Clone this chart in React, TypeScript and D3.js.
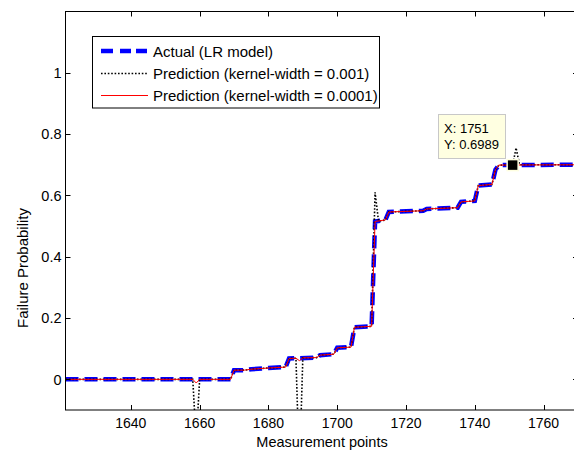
import React from "react";
import * as d3 from "d3";

// ---- data ----
const actualX = [1621, 1669, 1670, 1673, 1675, 1680, 1685, 1686, 1694, 1695, 1699, 1700, 1704, 1705, 1710, 1711, 1714, 1715, 1725, 1726, 1735, 1736, 1740, 1741, 1745, 1746, 1747, 1770];
const actualY = [0, 0, 0.03, 0.03, 0.033, 0.037, 0.04, 0.068, 0.071, 0.079, 0.082, 0.103, 0.105, 0.17, 0.173, 0.515, 0.52, 0.546, 0.55, 0.556, 0.56, 0.579, 0.582, 0.632, 0.636, 0.684, 0.699, 0.7];

// kernel-width = 0.001 deviations (black dotted)
const coarseSpikeX = [1658, 1659, 1660, 1688, 1689, 1690, 1711, 1712, 1751, 1752, 1753];
const coarseSpikeY = [0, -0.2, 0, 0.069, -0.3, 0.07, 0.61, 0.516, 0.699, 0.755, 0.7];

// kernel-width = 0.0001 deviations (red)
const fineSpikeX = [1658, 1659, 1660, 1688, 1689, 1690];
const fineSpikeY = [0, -0.012, 0, 0.069, 0.061, 0.07];

const xTicks = [1640, 1660, 1680, 1700, 1720, 1740, 1760];
const yTicks = [0, 0.2, 0.4, 0.6, 0.8, 1];
const yTickLabels = ["0", "0.2", "0.4", "0.6", "0.8", "1"];

const legendLabels = [
  "Actual (LR model)",
  "Prediction (kernel-width = 0.001)",
  "Prediction (kernel-width = 0.0001)",
];

const tipX = 1751;
const tipY = 0.6989;

type P = [number, number];
function merge(bx: number[], by: number[], sx: number[], sy: number[]): P[] {
  const m = new Map<number, number>();
  bx.forEach((x, i) => m.set(x, by[i]));
  sx.forEach((x, i) => m.set(x, sy[i]));
  return Array.from(m.entries()).sort((a, b) => a[0] - b[0]) as P[];
}

export default function App() {
  const W = 574, H = 451;
  const x0 = 65.5, x1 = 578, y0 = 11.5, y1 = 410;
  const x = d3.scaleLinear().domain([1621, 1770]).range([x0, x1]);
  const y = d3.scaleLinear().domain([-0.1, 1.2]).range([y1, y0]);
  const line = d3.line<P>().x(d => x(d[0])).y(d => y(d[1]));

  const actual: P[] = actualX.map((v, i) => [v, actualY[i]]);
  const coarse = merge(actualX, actualY, coarseSpikeX, coarseSpikeY);
  const fine = merge(actualX, actualY, fineSpikeX, fineSpikeY);

  const font = "'Liberation Sans', Arial, sans-serif";
  const fs = 14.5;
  const lfs = 15;
  const tl = 5;

  const lgX = 92.5, lgY = 36.5, lgW = 287, lgH = 71.5;
  const rows = [51, 73.5, 95.5];

  const px = x(tipX), py = y(tipY);

  return (
    <svg width={W} height={H} style={{ position: "absolute", left: 0, top: 0 }} fontFamily={font}>
      <rect x={0} y={0} width={W} height={H} fill="#fff" />
      <defs>
        <clipPath id="plot">
          <rect x={x0} y={y0} width={x1 - x0} height={y1 - y0} />
        </clipPath>
      </defs>
      <g clipPath="url(#plot)">
        <path d={line(actual) || ""} fill="none" stroke="#0000ff" strokeWidth={4.5} strokeDasharray="13 6" />
        <path d={line(coarse) || ""} fill="none" stroke="#000" strokeWidth={1.6} strokeDasharray="1.6 1.8" />
        <path d={line(fine) || ""} fill="none" stroke="#ff0000" strokeWidth={1} />
      </g>
      {/* frame */}
      <rect x={x0} y={y0} width={x1 - x0} height={y1 - y0} fill="none" stroke="#000" strokeWidth={1} />
      {/* ticks */}
      {xTicks.map(t => (
        <g key={"x" + t}>
          <line x1={Math.round(x(t)) + 0.5} x2={Math.round(x(t)) + 0.5} y1={y1} y2={y1 - tl} stroke="#000" />
          <line x1={Math.round(x(t)) + 0.5} x2={Math.round(x(t)) + 0.5} y1={y0} y2={y0 + tl} stroke="#000" />
          <text x={x(t)} y={428} fontSize={14} textAnchor="middle">{t}</text>
        </g>
      ))}
      {yTicks.map((t, i) => (
        <g key={"y" + t}>
          <line x1={x0} x2={x0 + tl} y1={Math.round(y(t)) + 0.5} y2={Math.round(y(t)) + 0.5} stroke="#000" />
          <line x1={x1 - tl} x2={x1} y1={Math.round(y(t)) + 0.5} y2={Math.round(y(t)) + 0.5} stroke="#000" />
          <text x={61.5} y={y(t) + 5.2} fontSize={fs} textAnchor="end">{yTickLabels[i]}</text>
        </g>
      ))}
      {/* axis labels */}
      <text x={322} y={446.5} fontSize={14.5} textAnchor="middle">Measurement points</text>
      <text transform={`translate(28,268) rotate(-90)`} fontSize={lfs} textAnchor="middle">Failure Probability</text>
      {/* legend */}
      <rect x={lgX} y={lgY} width={lgW} height={lgH} fill="#fff" stroke="#000" />
      <line x1={101} x2={148} y1={rows[0]} y2={rows[0]} stroke="#0000ff" strokeWidth={4.5} strokeDasharray="12 7 11 5 11" />
      <line x1={101} x2={148} y1={rows[1]} y2={rows[1]} stroke="#000" strokeWidth={1.6} strokeDasharray="1.6 1.8" />
      <line x1={101} x2={148} y1={rows[2]} y2={rows[2]} stroke="#ff0000" strokeWidth={1} />
      {legendLabels.map((l, i) => (
        <text key={l} x={153} y={rows[i] + 5.5} fontSize={lfs}>{l}</text>
      ))}
      {/* data tip */}
      <rect x={438.5} y={114.5} width={67} height={44} fill="#ffffe1" stroke="#c8c8c8" />
      <text x={444} y={133} fontSize={13}>X: {tipX}</text>
      <text x={444} y={149} fontSize={13}>Y: {tipY}</text>
      <rect x={px - 5.5} y={py - 5.5} width={11} height={11} fill="#000" stroke="#ffffe1" strokeWidth={1.5} />
    </svg>
  );
}
